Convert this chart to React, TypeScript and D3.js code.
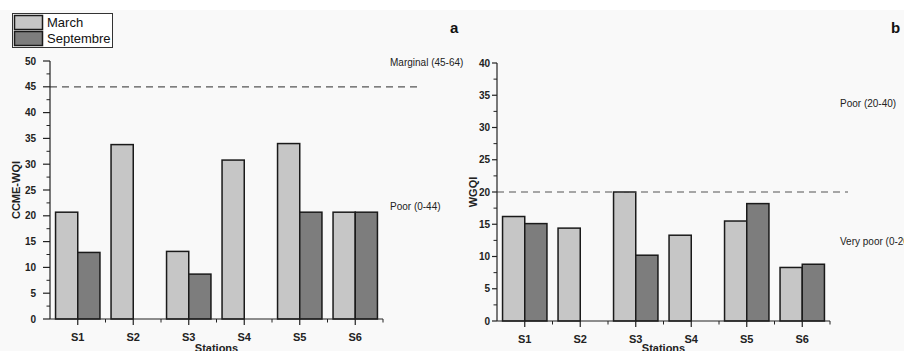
import { useEffect, useRef } from "react";
import * as d3 from "d3";

const stations = ["S1", "S2", "S3", "S4", "S5", "S6"];
const seasons = ["March", "Septembre"];

// panel a: CCME-WQI
const ccmeMarch = [20.7, 33.8, 13.1, 30.8, 34.0, 20.7];
const ccmeSept = [12.9, 0, 8.7, 0, 20.7, 20.7];
const ccmeTicks = [0, 5, 10, 15, 20, 25, 30, 35, 40, 45, 50];

// panel b: WGQI
const wgqiMarch = [16.2, 14.4, 20.0, 13.3, 15.5, 8.3];
const wgqiSept = [15.1, 0, 10.2, 0, 18.2, 8.8];
const wgqiTicks = [0, 5, 10, 15, 20, 25, 30, 35, 40];

const FONT = "'Liberation Sans', Arial, sans-serif";
const LIGHT = "#c6c6c6";
const DARK = "#7d7d7d";

interface Panel {
    march: number[];
    sept: number[];
    ticks: number[];
    max: number;
    threshold: number;
    yLabel: string;
    letter: string;
    upperLabel: string;
    lowerLabel: string;
    x0: number;
    x1: number;
    yTop: number;
    yBottom: number;
    dashEnd: number;
    tickLen: number;
    labelGap: number;
    yLabelX: number;
    letterX: number;
    classX: number;
    upperY: number;
    lowerY: number;
}

const panels: Panel[] = [
    {
        march: ccmeMarch, sept: ccmeSept, ticks: ccmeTicks, max: 50, threshold: 45,
        yLabel: "CCME-WQI", letter: "a", upperLabel: "Marginal (45-64)", lowerLabel: "Poor (0-44)",
        x0: 50, x1: 383, yTop: 61, yBottom: 319, dashEnd: 422, tickLen: 7, labelGap: 7,
        yLabelX: 20, letterX: 450, classX: 390, upperY: 66, lowerY: 210,
    },
    {
        march: wgqiMarch, sept: wgqiSept, ticks: wgqiTicks, max: 40, threshold: 20,
        yLabel: "WGQI", letter: "b", upperLabel: "Poor (20-40)", lowerLabel: "Very poor (0-20)",
        x0: 497, x1: 830, yTop: 63, yBottom: 321, dashEnd: 848, tickLen: 5, labelGap: 2,
        yLabelX: 477, letterX: 891, classX: 840, upperY: 107, lowerY: 245,
    },
];

function drawPanel(root: d3.Selection<SVGSVGElement, unknown, null, undefined>, p: Panel) {
    const g = root.append("g");
    const x = d3.scaleBand().domain(stations).range([p.x0, p.x1]).padding(0);
    const sub = d3.scaleBand().domain(seasons).range([0, x.bandwidth()]).paddingInner(0).paddingOuter(0.25);
    const y = d3.scaleLinear().domain([0, p.max]).range([p.yBottom, p.yTop]);

    // bars
    stations.forEach((s, i) => {
        const vals = [p.march[i], p.sept[i]];
        seasons.forEach((season, j) => {
            if (vals[j] <= 0) return;
            g.append("rect")
                .attr("x", x(s)! + sub(season)!)
                .attr("y", y(vals[j]))
                .attr("width", sub.bandwidth())
                .attr("height", y(0) - y(vals[j]))
                .attr("fill", j === 0 ? LIGHT : DARK)
                .attr("stroke", "#1a1a1a")
                .attr("stroke-width", 1.5);
        });
    });

    // threshold line
    g.append("line")
        .attr("x1", p.x0)
        .attr("x2", p.dashEnd)
        .attr("y1", y(p.threshold))
        .attr("y2", y(p.threshold))
        .attr("stroke", "#555")
        .attr("stroke-width", 1.2)
        .attr("stroke-dasharray", "7,5");

    // y axis
    const yAxis = g.append("g").attr("transform", `translate(${p.x0},0)`);
    yAxis.append("line").attr("y1", y(0)).attr("y2", y(p.max)).attr("stroke", "#222").attr("stroke-width", 1.2);
    p.ticks.forEach((t) => {
        yAxis.append("line").attr("x1", -p.tickLen).attr("x2", 0).attr("y1", y(t)).attr("y2", y(t)).attr("stroke", "#222").attr("stroke-width", 1.2);
        yAxis.append("text")
            .attr("x", -p.tickLen - p.labelGap)
            .attr("y", y(t))
            .attr("dy", "0.35em")
            .attr("text-anchor", "end")
            .attr("font-size", 10)
            .attr("font-weight", "bold")
            .attr("fill", "#222")
            .text(t);
    });
    d3.range(2.5, p.max, 5).forEach((t) => {
        yAxis.append("line").attr("x1", -3.5).attr("x2", 0).attr("y1", y(t)).attr("y2", y(t)).attr("stroke", "#222").attr("stroke-width", 1);
    });

    // x axis
    const xAxis = g.append("g").attr("transform", `translate(0,${p.yBottom})`);
    xAxis.append("line").attr("x1", p.x0).attr("x2", p.x1).attr("stroke", "#222").attr("stroke-width", 1.2);
    stations.forEach((s) => {
        const cx = x(s)! + x.bandwidth() / 2;
        xAxis.append("line").attr("x1", cx).attr("x2", cx).attr("y1", 0).attr("y2", 6).attr("stroke", "#222").attr("stroke-width", 1.2);
        xAxis.append("text")
            .attr("x", cx)
            .attr("y", 22)
            .attr("text-anchor", "middle")
            .attr("font-size", 11)
            .attr("font-weight", "bold")
            .attr("fill", "#222")
            .text(s);
    });
    x.domain().forEach((s, i) => {
        const ex = x(s)!;
        if (i > 0) xAxis.append("line").attr("x1", ex).attr("x2", ex).attr("y1", 0).attr("y2", 3.5).attr("stroke", "#222");
    });
    xAxis.append("line").attr("x1", p.x1).attr("x2", p.x1).attr("y1", 0).attr("y2", 3.5).attr("stroke", "#222");

    g.append("text")
        .attr("x", (p.x0 + p.x1) / 2)
        .attr("y", 352)
        .attr("text-anchor", "middle")
        .attr("font-size", 11)
        .attr("font-weight", "bold")
        .attr("fill", "#222")
        .text("Stations");

    g.append("text")
        .attr("transform", `translate(${p.yLabelX},${(p.yTop + p.yBottom) / 2}) rotate(-90)`)
        .attr("text-anchor", "middle")
        .attr("font-size", 11)
        .attr("font-weight", "bold")
        .attr("fill", "#222")
        .text(p.yLabel);

    g.append("text")
        .attr("x", p.letterX)
        .attr("y", 33)
        .attr("font-size", 15)
        .attr("font-weight", "bold")
        .attr("fill", "#111")
        .text(p.letter);

    g.append("text").attr("x", p.classX).attr("y", p.upperY).attr("font-size", 10).attr("fill", "#222").text(p.upperLabel);
    g.append("text").attr("x", p.classX).attr("y", p.lowerY).attr("font-size", 10).attr("fill", "#222").text(p.lowerLabel);
}

export default function App() {
    const ref = useRef<SVGSVGElement>(null);

    useEffect(() => {
        if (!ref.current) return;
        const svg = d3.select(ref.current);
        svg.selectAll("*").remove();

        svg.append("rect").attr("x", 0).attr("y", 10).attr("width", 904).attr("height", 341).attr("fill", "#f9f9f9");

        panels.forEach((p) => drawPanel(svg, p));

        // legend
        const legend = svg.append("g");
        legend.append("rect").attr("x", 12.5).attr("y", 13.5).attr("width", 100).attr("height", 34).attr("fill", "#fff").attr("stroke", "#333");
        seasons.forEach((s, i) => {
            legend.append("rect")
                .attr("x", 14.5)
                .attr("y", 15.5 + i * 16)
                .attr("width", 28)
                .attr("height", 14)
                .attr("fill", i === 0 ? LIGHT : DARK)
                .attr("stroke", "#1a1a1a")
                .attr("stroke-width", 1.5);
            legend.append("text")
                .attr("x", 47)
                .attr("y", 27 + i * 16)
                .attr("font-size", 13)
                .attr("fill", "#111")
                .text(s);
        });
    }, []);

    return (
        <div style={{ position: "absolute", left: 0, top: 0 }}>
            <svg ref={ref} width={904} height={351} style={{ display: "block", fontFamily: FONT }} />
        </div>
    );
}
